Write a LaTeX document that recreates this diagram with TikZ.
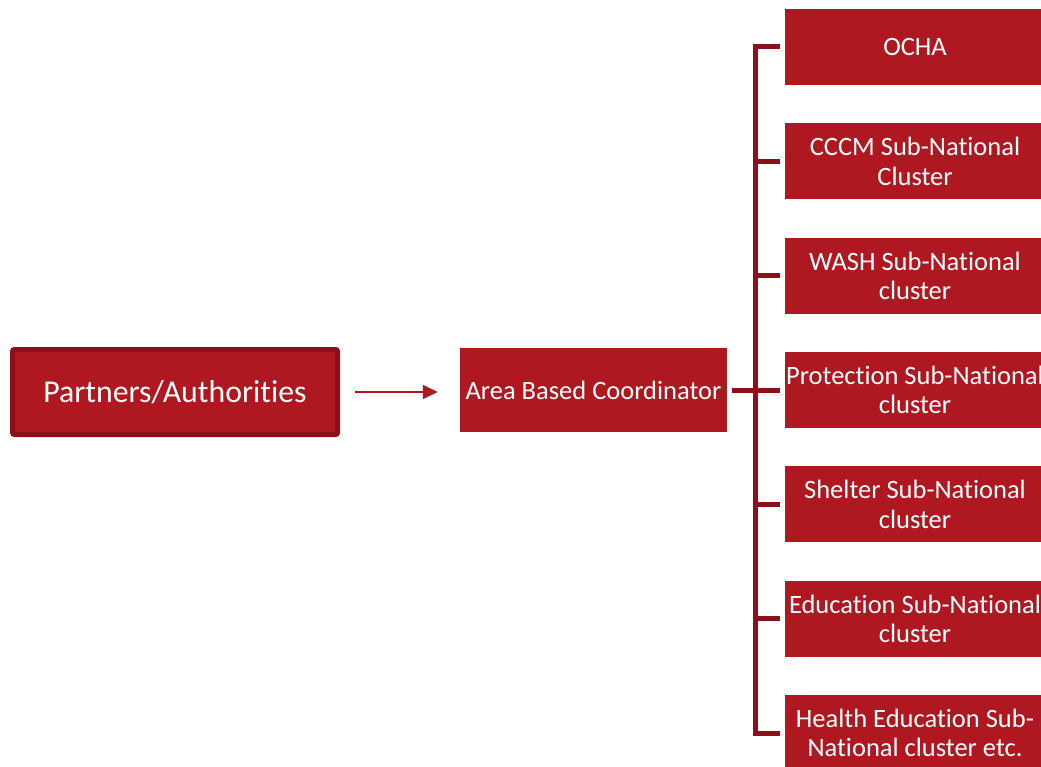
\documentclass[tikz,border=0pt]{standalone}
\usepackage{fontspec}
\setmainfont{Carlito}[Ligatures={NoCommon}]
\usetikzlibrary{arrows.meta}
\definecolor{boxred}{HTML}{AF1820}
\definecolor{darkred}{HTML}{8B1019}
\begin{document}
\begin{tikzpicture}[x=1pt,y=-1pt,
  mainbox/.style={fill=boxred, draw=darkred, line width=5pt, rounded corners=2pt,
    minimum width=325pt, minimum height=85pt, inner sep=0pt, text=white,
    font=\fontsize{31.8}{36}\selectfont},
  coordbox/.style={fill=boxred, minimum width=267pt, minimum height=84pt,
    inner sep=0pt, text=white, font=\fontsize{26.5}{29.5}\selectfont},
  clusterbox/.style={fill=boxred, minimum width=260pt, minimum height=76pt,
    inner sep=0pt, text=white, align=center, font=\fontsize{26.5}{29.5}\selectfont},
  bracket/.style={draw=darkred, line width=5pt},
  flow/.style={draw=boxred, line width=1.5pt, -{Triangle[length=15pt,width=14pt]}}]
\useasboundingbox (0,0) rectangle (1041,767);
\clip (0,0) rectangle (1041,767);

% main chain
\node[mainbox] (pa) at (175,392) {Partners/Authorities};
\node[coordbox] (abc) at (593.5,390) {Area Based Coordinator};

% clusters
\node[clusterbox] (c1) at (915,47) {OCHA};
\node[clusterbox] (c2) at (915,161.3) {CCCM Sub-National\\Cluster};
\node[clusterbox] (c3) at (915,275.7) {WASH Sub-National\\cluster};
\node[clusterbox] (c4) at (915,390) {Protection Sub-National\\cluster};
\node[clusterbox] (c5) at (915,504.3) {Shelter Sub-National\\cluster};
\node[clusterbox] (c6) at (915,618.7) {Education Sub-National\\cluster};
\node[clusterbox] (c7) at (915,733) {Health Education Sub-\\National cluster etc.};

% arrow into the coordinator
\draw[flow] ([xshift=14.5pt]pa.east) -- ([xshift=-22pt]pa.east -| abc.west);

% bracket from the coordinator to the clusters
\draw[bracket] ([xshift=5pt]abc.east) -- ([xshift=-5pt]c4.west);
\draw[bracket] ([xshift=-5pt]c1.west) -- ([xshift=-29pt]c1.west)
  -- ([xshift=-29pt]c7.west) -- ([xshift=-5pt]c7.west);
\foreach \c in {c2,c3,c5,c6}
  \draw[bracket] ([xshift=-29pt]\c.west) -- ([xshift=-5pt]\c.west);
\end{tikzpicture}
\end{document}
